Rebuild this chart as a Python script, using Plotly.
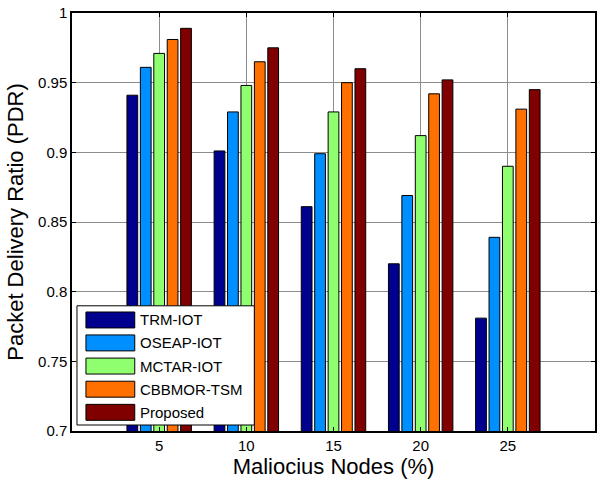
import plotly.graph_objects as go

categories = [5, 10, 15, 20, 25]
series_names = ["TRM-IOT", "OSEAP-IOT", "MCTAR-IOT", "CBBMOR-TSM", "Proposed"]
trm_iot = [0.941, 0.901, 0.861, 0.820, 0.781]
oseap_iot = [0.961, 0.929, 0.899, 0.869, 0.839]
mctar_iot = [0.971, 0.948, 0.929, 0.912, 0.890]
cbbmor_tsm = [0.981, 0.965, 0.950, 0.942, 0.931]
proposed = [0.989, 0.975, 0.960, 0.952, 0.945]
colors = ["#00008F", "#008FFF", "#8FFF70", "#FF7000", "#800000"]
y_ticks = [0.7, 0.75, 0.8, 0.85, 0.9, 0.95, 1]

series = [trm_iot, oseap_iot, mctar_iot, cbbmor_tsm, proposed]

W, H = 601, 484
ML, MR, MT, MB = 72, 4, 12, 53

fig = go.Figure()
for name, vals, col in zip(series_names, series, colors):
    fig.add_trace(go.Bar(x=categories, y=vals, name=name, marker_color=col,
                         marker_line_color="black", marker_line_width=1,
                         showlegend=False))

pw = W - ML - MR
ph = H - MT - MB
def px_x(x):
    return (x - ML) / pw
def px_y(y):
    return (H - MB - y) / ph

shapes = []
annotations = []
# legend box
shapes.append(dict(type="rect", xref="paper", yref="paper",
                   x0=px_x(77), x1=px_x(255), y0=px_y(425), y1=px_y(305.5),
                   fillcolor="white", line=dict(color="black", width=1), layer="above"))
ys = [319.7, 342.7, 365.9, 389.1, 412.3]
for name, col, yc in zip(series_names, colors, ys):
    shapes.append(dict(type="rect", xref="paper", yref="paper",
                       x0=px_x(86), x1=px_x(135), y0=px_y(yc + 8), y1=px_y(yc - 8),
                       fillcolor=col, line=dict(color="black", width=1), layer="above"))
    annotations.append(dict(xref="paper", yref="paper", x=px_x(138), y=px_y(yc),
                            text=name, showarrow=False, xanchor="left", yanchor="middle",
                            font=dict(family="Liberation Sans, Arial", size=15, color="black")))

fig.update_layout(
    width=W, height=H,
    margin=dict(l=ML, r=MR, t=MT, b=MB, pad=0),
    paper_bgcolor="white", plot_bgcolor="white",
    barmode="group", bargap=0.23, bargroupgap=0.2,
    font=dict(family="Liberation Sans, Arial", size=15, color="black"),
    shapes=shapes, annotations=annotations,
    xaxis=dict(range=[0, 30], tickvals=categories, ticktext=[str(c) for c in categories],
               showgrid=True, gridcolor="#8c8c8c", gridwidth=1,
               ticks="inside", ticklen=4, tickcolor="black", mirror="ticks",
               showline=True, linecolor="black", linewidth=1.5, zeroline=False,
               title=dict(text="Maliocius Nodes (%)", font=dict(size=22), standoff=6),
               tickfont=dict(size=15)),
    yaxis=dict(range=[0.7, 1], tickvals=y_ticks, ticktext=[f"{v:g}" for v in y_ticks],
               showgrid=True, gridcolor="#8c8c8c", gridwidth=1,
               ticks="inside", ticklen=4, tickcolor="black", mirror="ticks",
               showline=True, linecolor="black", linewidth=1.5, zeroline=False,
               title=dict(text="Packet Delivery Ratio (PDR)", font=dict(size=22), standoff=8),
               tickfont=dict(size=15)),
)

fig.write_html("out.html")
